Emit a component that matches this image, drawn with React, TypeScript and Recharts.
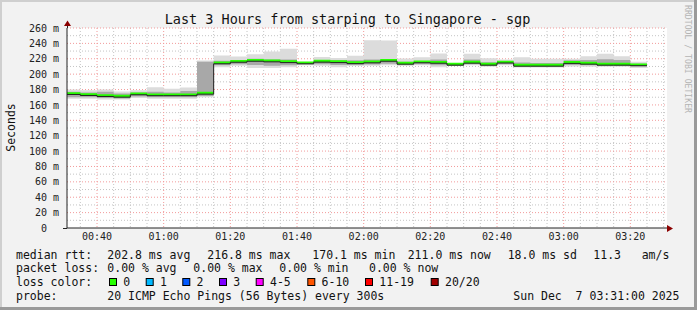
import React from 'react';
import { ComposedChart, Area, Line, XAxis, YAxis, CartesianGrid } from 'recharts';

// 5-minute bucket start times (minutes after 00:00)
const bucketStarts = [30, 35, 40, 45, 50, 55, 60, 65, 70, 75, 80, 85, 90, 95, 100, 105, 110, 115, 120, 125, 130, 135, 140, 145, 150, 155, 160, 165, 170, 175, 180, 185, 190, 195, 200];
const bucketEnd = 205;
// median rtt (ms)
const medianRtt = [173.6, 172.3, 171.0, 170.1, 173.2, 172.0, 172.0, 172.0, 174.0, 213.5, 215.5, 216.8, 216.0, 215.0, 213.5, 215.6, 215.0, 213.7, 214.7, 216.8, 213.0, 214.8, 214.2, 211.7, 214.3, 211.7, 214.5, 210.4, 210.4, 210.4, 214.0, 213.0, 211.7, 211.7, 211.0];
// smoke extents (ms)
const smokeMin = [168, 168, 167, 167, 169, 168, 168, 168, 170, 209, 211, 208, 208, 209, 211.5, 211, 209, 210.5, 211, 211.5, 210.5, 211.5, 209, 210.5, 211.5, 209.5, 211.5, 208.5, 208.5, 208.5, 210, 209.5, 209.5, 209.5, 208];
const smokeLowQ = [170, 170, 169, 168.5, 171, 170, 170, 170, 171.5, 211.5, 213, 212, 211, 211.5, 212.5, 213, 212, 212, 212.5, 213.5, 212, 213, 211.5, 211, 213, 210.5, 213, 209.5, 209.5, 209.5, 212, 211.5, 210.5, 210.5, 210];
const smokeHighQ = [177, 176, 177, 175, 176, 177, 176, 178, 216, 217.5, 218, 220, 219, 219, 214.5, 218, 218, 218, 219, 219.5, 216, 217, 219, 213, 219, 215.5, 217, 215, 214.5, 214.5, 218, 218.5, 219.5, 218.5, 213.5];
const smokeMax = [180, 179, 180, 177.5, 179, 183, 181, 182.6, 217.8, 224.3, 223, 226, 229.5, 233, 215.5, 222.3, 221, 224, 244, 243.8, 220.4, 222, 227, 214, 226.4, 220.8, 219, 222, 220, 220, 220, 223.4, 226.4, 223.4, 216];

const xTicks = [40, 60, 80, 100, 120, 140, 160, 180, 200];
const xTickLabels = ['00:40', '01:00', '01:20', '01:40', '02:00', '02:20', '02:40', '03:00', '03:20'];
const yTicks = [0, 20, 40, 60, 80, 100, 120, 140, 160, 180, 200, 220, 240, 260];

const lossLabels = ['0', '1', '2', '3', '4-5', '6-10', '11-19', '20/20'];
const lossColors = ['#26ff00', '#00b8ff', '#0059ff', '#7e00ff', '#ff00ff', '#ff5500', '#ff0000', '#a10000'];

const GREEN_BAND = 3; // loss-colour band height (ms), drawn on the median

const rows = bucketStarts.map((t, i) => ({
  t,
  outer: [smokeMin[i], smokeMax[i]],
  inner: [smokeLowQ[i], smokeHighQ[i]],
  band: [medianRtt[i], medianRtt[i] + GREEN_BAND],
  med: medianRtt[i],
}));
const lastRow = rows[rows.length - 1];
const data = [...rows, { ...lastRow, t: bucketEnd }];

const minorX: number[] = [];
for (let m = 35; m <= 210; m += 5) if (m % 20 !== 0) minorX.push(m);
const minorY: number[] = [];
for (let v = 10; v <= 260; v += 20) minorY.push(v);
const majorY = yTicks.filter((v) => v > 0);

const MONO = '"DejaVu Sans Mono", monospace';

const YTick = (props: any) => {
  const { x, y, payload } = props;
  const v = payload.value;
  return (
    <text x={x} y={y} dy="0.36em" textAnchor="end" fontFamily={MONO} fontSize={10} fill="#222">
      {v === 0 ? (
        <>
          0<tspan fillOpacity={0}> m</tspan>
        </>
      ) : (
        `${v} m`
      )}
    </text>
  );
};

const fmtX = (v: number) => {
  const i = xTicks.indexOf(v);
  return i >= 0 ? xTickLabels[i] : '';
};

const legendFont = { fontFamily: MONO, fontSize: 11.5, fill: '#111' } as const;

export default function App() {
  const row1 = [
    [16, 'median rtt:'],
    [107.3, '202.8 ms avg'],
    [207.3, '216.8 ms max'],
    [312.3, '170.1 ms min'],
    [407.7, '211.0 ms now'],
    [507.7, '18.0 ms sd'],
    [593.3, '11.3'],
    [641.7, 'am/s'],
  ] as const;
  const row2 = [
    [16, 'packet loss:'],
    [107.3, '0.00 % avg'],
    [193.3, '0.00 % max'],
    [279.3, '0.00 % min'],
    [369, '0.00 % now'],
  ] as const;
  const swatchX = [109, 145.7, 182.3, 219, 255.7, 307.3, 365, 430.7];
  return (
    <div style={{ position: 'absolute', left: 0, top: 0, width: 697, height: 310, background: '#f2f2f2', overflow: 'hidden' }}>
      <ComposedChart width={697} height={310} data={data} margin={{ top: 28, right: 30, left: 0, bottom: 0 }}>
        <CartesianGrid horizontal={false} vertical={false} fill="#ffffff" />
        <XAxis
          dataKey="t"
          type="number"
          domain={[31, 211]}
          allowDataOverflow
          ticks={xTicks}
          tickFormatter={fmtX}
          height={82}
          tickLine={false}
          tickSize={5}
          tickMargin={0}
          axisLine={{ stroke: '#222' }}
          tick={{ fontFamily: MONO, fontSize: 10, fill: '#222' }}
        />
        <YAxis
          type="number"
          domain={[0, 260]}
          ticks={yTicks}
          width={67}
          tickLine={false}
          tickSize={6}
          tickMargin={2}
          axisLine={{ stroke: '#222' }}
          tick={<YTick />}
          interval={0}
        />
        <Area dataKey="outer" type="stepAfter" stroke="none" fill="#dcdcdc" fillOpacity={1} isAnimationActive={false} dot={false} activeDot={false} />
        <Area dataKey="inner" type="stepAfter" stroke="none" fill="#a8a8a8" fillOpacity={1} isAnimationActive={false} dot={false} activeDot={false} />
        <Area dataKey="band" type="stepAfter" stroke="none" fill="#26ff00" fillOpacity={1} isAnimationActive={false} dot={false} activeDot={false} />
        <Line dataKey="med" type="stepAfter" stroke="#202020" strokeWidth={1} dot={false} activeDot={false} isAnimationActive={false} />
        <CartesianGrid horizontalValues={minorY} verticalValues={minorX} stroke="#c4c4c4" strokeDasharray="1 2" />
        <CartesianGrid horizontalValues={majorY} verticalValues={xTicks} stroke="#f29a9a" strokeDasharray="1 2" />
      </ComposedChart>
      <svg width={697} height={310} style={{ position: 'absolute', left: 0, top: 0, pointerEvents: 'none' }}>
        <rect x={0} y={0} width={697} height={2} fill="#cfcfcf" />
        <rect x={0} y={0} width={2} height={310} fill="#cfcfcf" />
        <rect x={0} y={307} width={697} height={3} fill="#9a9a9a" />
        <rect x={694} y={0} width={3} height={310} fill="#9a9a9a" />
        {/* axis arrows */}
        <line x1={63} y1={228.5} x2={67} y2={228.5} stroke="#222" />
        <line x1={67.5} y1={28} x2={67.5} y2={25} stroke="#222" />
        <path d="M667,225 L673,228.5 L667,232 Z" fill="#8b0000" />
        <path d="M64,26 L67.5,20.5 L71,26 Z" fill="#8b0000" />
        <text x={347.5} y={19} textAnchor="middle" dominantBaseline="central" fontFamily={MONO} fontSize={13.5} fill="#111">
          Last 3 Hours from starping to Singapore - sgp
        </text>
        <text transform="translate(10.5,127.5) rotate(-90)" textAnchor="middle" dominantBaseline="central" fontFamily={MONO} fontSize={11.5} fill="#111">
          Seconds
        </text>
        <text transform="translate(687,5) rotate(90)" textAnchor="start" dominantBaseline="central" fontFamily={MONO} fontSize={8} fill="#b4b4b4" textLength={108} lengthAdjust="spacingAndGlyphs">
          RRDTOOL / TOBI OETIKER
        </text>
        {row1.map(([x, s], i) => (
          <text key={'a' + i} x={x} y={254.5} dominantBaseline="central" {...legendFont}>{s}</text>
        ))}
        {row2.map(([x, s], i) => (
          <text key={'b' + i} x={x} y={268.3} dominantBaseline="central" {...legendFont}>{s}</text>
        ))}
        <text x={16} y={282} dominantBaseline="central" {...legendFont}>loss color:</text>
        {lossLabels.map((lab, i) => (
          <g key={'c' + i}>
            <rect x={swatchX[i] + 0.5} y={278.5} width={7} height={7} fill={lossColors[i]} stroke="#000" strokeWidth={1} />
            <text x={swatchX[i] + 14.3} y={282} dominantBaseline="central" {...legendFont}>{lab}</text>
          </g>
        ))}
        <text x={16} y={296.3} dominantBaseline="central" {...legendFont}>probe:</text>
        <text x={107.3} y={296.3} dominantBaseline="central" {...legendFont}>20 ICMP Echo Pings (56 Bytes) every 300s</text>
        <text x={513.3} y={296.3} dominantBaseline="central" {...legendFont} style={{ whiteSpace: 'pre' }}>Sun Dec  7 03:31:00 2025</text>
      </svg>
    </div>
  );
}
